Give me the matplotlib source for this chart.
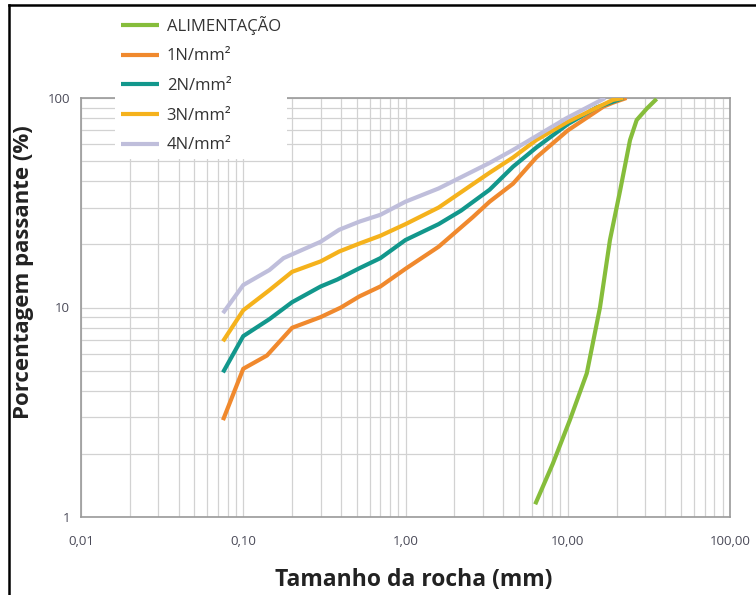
import matplotlib
matplotlib.use('Agg')
import matplotlib.pyplot as plt
from matplotlib.lines import Line2D
from matplotlib.ticker import FixedLocator, LogLocator, NullFormatter

plt.rcParams['font.family'] = ['Open Sans', 'DejaVu Sans']

# valores (tamanho em mm, % passante)
x_alim = [6.3, 8.1, 10.3, 13.1, 15.8, 18.2, 21, 24.2, 26.6, 30.7, 35.3]
y_alim = [1.15, 1.8, 2.9, 4.85, 10, 21, 36, 63, 78.5, 89, 99]

x_1n = [0.075, 0.1, 0.14, 0.2, 0.3, 0.4, 0.52, 0.7, 1.0, 1.6, 2.6, 3.3, 4.6, 6.4, 10, 16.6, 19, 23]
y_1n = [2.9, 5.1, 5.9, 8.0, 9.0, 10.0, 11.3, 12.6, 15.3, 19.5, 27, 32, 39, 52, 70, 91, 95, 100]

x_2n = [0.075, 0.1, 0.145, 0.2, 0.3, 0.38, 0.52, 0.7, 1.0, 1.6, 2.2, 3.3, 4.6, 6.4, 10, 15, 22]
y_2n = [4.9, 7.3, 8.8, 10.6, 12.6, 13.6, 15.4, 17.2, 21, 25, 29, 36.5, 47, 58, 75, 90, 100]

x_3n = [0.075, 0.1, 0.145, 0.2, 0.3, 0.39, 0.52, 0.7, 1.0, 1.6, 2.5, 3.3, 4.6, 6.4, 10, 19, 22]
y_3n = [6.9, 9.7, 12.1, 14.8, 16.6, 18.5, 20.2, 22, 25, 30, 38, 44, 52, 63, 77, 98, 100]

x_4n = [0.075, 0.1, 0.145, 0.177, 0.3, 0.39, 0.52, 0.7, 1.0, 1.6, 3.3, 4.6, 9.8, 17]
y_4n = [9.4, 12.8, 15.1, 17.2, 20.6, 23.5, 25.7, 27.7, 32, 37, 49, 56.5, 80, 100]

labels = ['ALIMENTAÇÃO', '1N/mm²', '2N/mm²', '3N/mm²', '4N/mm²']
cores = ['#86bd3b', '#f0892d', '#12978c', '#f5b21c', '#bfbedb']

xticks = [0.01, 0.1, 1, 10, 100]
xticklabels = ['0,01', '0,10', '1,00', '10,00', '100,00']
yticks = [1, 10, 100]
yticklabels = ['1', '10', '100']

fig = plt.figure(figsize=(7.56, 5.95), dpi=100)
ax = fig.add_axes([81/756, 78/595, 649/756, 419/595])

series = [(x_alim, y_alim), (x_1n, y_1n), (x_2n, y_2n), (x_3n, y_3n), (x_4n, y_4n)]
handles = []
for (xs, ys), lab, c in zip(series, labels, cores):
    h, = ax.plot(xs, ys, color=c, lw=3, label=lab, solid_joinstyle='round',
                 solid_capstyle='butt', zorder=3)
    handles.append(h)

ax.set_xscale('log')
ax.set_yscale('log')
ax.set_xlim(0.01, 100)
ax.set_ylim(1, 100)

ax.xaxis.set_major_locator(FixedLocator(xticks))
ax.set_xticklabels(xticklabels)
ax.yaxis.set_major_locator(FixedLocator(yticks))
ax.set_yticklabels(yticklabels)
for a in (ax.xaxis, ax.yaxis):
    a.set_minor_locator(LogLocator(base=10, subs=range(2, 10)))
    a.set_minor_formatter(NullFormatter())

ax.grid(True, which='both', color='#d2d2d2', lw=0.9)
ax.set_axisbelow(True)
ax.tick_params(which='both', length=0, labelsize=9.5, colors='#4a4a58')
ax.tick_params(axis='x', pad=13)
ax.tick_params(axis='y', pad=8)
for s in ax.spines.values():
    s.set_color('#9a9a9a')
    s.set_linewidth(1.2)

fig.text(24/756, 1 - 272/595, 'Porcentagem passante (%)', rotation=90,
         ha='center', va='center', fontsize=16, fontweight='bold', color='#222222')
fig.text(414/756, 1 - 580/595, 'Tamanho da rocha (mm)',
         ha='center', va='center', fontsize=16.5, fontweight='bold', color='#222222')

leg = fig.legend(handles=handles, loc='upper left', bbox_to_anchor=(115/756, 1 - 10/595),
                 borderaxespad=0, frameon=True, facecolor='white', edgecolor='none',
                 framealpha=1, fontsize=12, labelspacing=0.82, handlelength=2.3,
                 handletextpad=0.45, borderpad=0.35)
for t in leg.get_texts():
    t.set_color('#333333')

# moldura preta da imagem original
fig.add_artist(Line2D([9/756, 1], [1 - 5/595, 1 - 5/595], color='black', lw=1.8))
fig.add_artist(Line2D([9/756, 9/756], [0, 1 - 5/595], color='black', lw=1.8))

fig.savefig('out.png', dpi=100)
